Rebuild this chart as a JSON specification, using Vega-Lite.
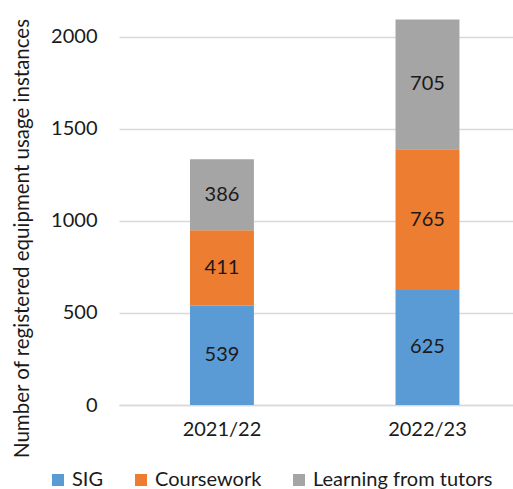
{
  "$schema": "https://vega.github.io/schema/vega-lite/v6.json",
  "width": 394,
  "height": 405,
  "autosize": "none",
  "padding": {"left": 119, "top": 0, "right": 0, "bottom": 84},
  "config": {
    "font": "Lato",
    "view": {"stroke": null},
    "axis": {"labelColor": "#1a1a1a", "titleColor": "#1a1a1a", "labelFont": "Lato", "titleFont": "Lato"},
    "legend": {"labelColor": "#1a1a1a", "labelFont": "Lato"}
  },
  "data": {
    "values": [
      {"year": "2021/22", "category": "SIG", "count": 539},
      {"year": "2021/22", "category": "Coursework", "count": 411},
      {"year": "2021/22", "category": "Learning from tutors", "count": 386},
      {"year": "2022/23", "category": "SIG", "count": 625},
      {"year": "2022/23", "category": "Coursework", "count": 765},
      {"year": "2022/23", "category": "Learning from tutors", "count": 705}
    ]
  },
  "transform": [
    {"calculate": "indexof(['SIG','Coursework','Learning from tutors'], datum.category)", "as": "rank"},
    {"stack": "count", "groupby": ["year"], "sort": [{"field": "rank", "order": "ascending"}], "as": ["y0", "y1"]},
    {"calculate": "(datum.y0 + datum.y1) / 2", "as": "mid"}
  ],
  "encoding": {
    "x": {
      "field": "year",
      "type": "nominal",
      "scale": {"paddingInner": 0.689, "paddingOuter": 0.303, "align": 0.57},
      "axis": {
        "title": null,
        "labelAngle": 0,
        "labelFontSize": 20,
        "labelPadding": 14,
        "ticks": false,
        "domain": true,
        "domainColor": "#d9d9d9",
        "domainWidth": 1.5
      }
    }
  },
  "layer": [
    {
      "mark": {"type": "bar"},
      "encoding": {
        "y": {
          "field": "y0",
          "type": "quantitative",
          "scale": {"domain": [0, 2201], "nice": false},
          "axis": {
            "values": [0, 500, 1000, 1500, 2000],
            "format": "d",
            "title": "Number of registered equipment usage instances",
            "titleFontSize": 20.5,
            "titleFontWeight": "normal",
            "titleX": -97,
            "titleY": 238,
            "titleAngle": -90,
            "titleAlign": "center",
            "titleBaseline": "middle",
            "titleLimit": 520,
            "labelFontSize": 20,
            "labelPadding": 22,
            "ticks": false,
            "domain": false,
            "grid": true,
            "gridColor": "#d9d9d9",
            "gridWidth": 1.5
          }
        },
        "y2": {"field": "y1"},
        "color": {
          "field": "category",
          "type": "nominal",
          "scale": {
            "domain": ["SIG", "Coursework", "Learning from tutors"],
            "range": ["#5b9bd5", "#ed7d31", "#a5a5a5"]
          },
          "legend": {
            "title": null,
            "orient": "none",
            "direction": "horizontal",
            "legendX": -71,
            "legendY": 470,
            "symbolType": "square",
            "symbolSize": 144,
            "symbolStrokeWidth": 0,
            "labelFontSize": 20,
            "labelOffset": 4,
            "labelLimit": 300,
            "columnPadding": 27
          }
        }
      }
    },
    {
      "mark": {"type": "text", "fontSize": 20, "color": "#1a1a1a", "baseline": "middle"},
      "encoding": {
        "y": {"field": "mid", "type": "quantitative"},
        "text": {"field": "count", "type": "quantitative"}
      }
    }
  ]
}
